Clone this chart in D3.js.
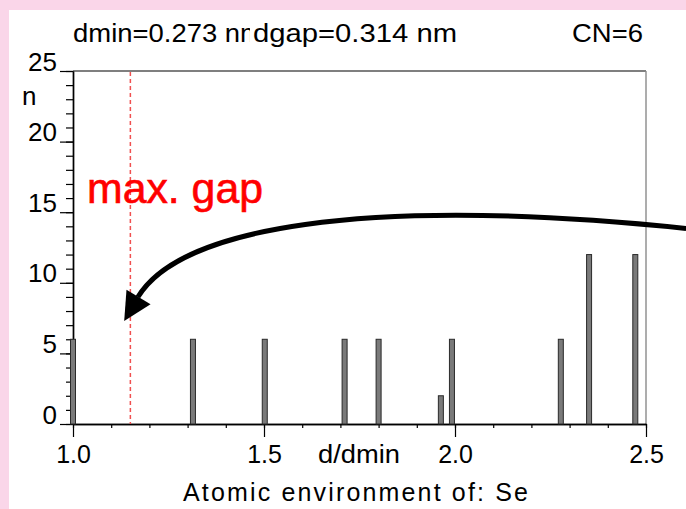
<!DOCTYPE html>
<html>
<head>
<meta charset="utf-8">
<script src="https://cdn.jsdelivr.net/npm/d3@7"></script>
<style>
  html, body { margin: 0; padding: 0; background: #fad6e9; }
  svg { display: block; }
  text { font-family: Arial, "Liberation Sans", sans-serif; }
</style>
</head>
<body>
<svg id="chart" width="686" height="509"></svg>
<script>
// Interatomic distance histogram around Se, distances normalised by dmin
const distances = [1.000, 1.314, 1.502, 1.711, 1.800, 1.963, 1.992, 2.277, 2.351, 2.472];
const counts    = [6, 6, 6, 6, 6, 2, 6, 6, 12, 12];

const dmin = 0.273;          // nm
const dgap = 0.314;          // nm
const coordinationNumber = 6;
const element = "Se";

const yMajorTicks = [0, 5, 10, 15, 20, 25];
const yMinorTicks = d3.range(0, 26, 1);
const xMajorTicks = [1.0, 1.5, 2.0, 2.5];
const xMinorTicks = d3.range(10, 26, 1).map(v => v / 10);

// Annotation arrow as a cubic Bezier (start, control 1, control 2, end) plus its tip,
// all in (d/dmin, n) units
const arrowCurve = [[2.605, 13.85], [1.751, 16.22], [1.2785, 13.85], [1.170, 8.99]];
const arrowTip = [1.134, 7.29];

const svg = d3.select("#chart");

// white sheet over the pink backdrop
svg.append("rect")
  .attr("x", 9).attr("y", 10)
  .attr("width", 686 - 9).attr("height", 509 - 10)
  .attr("fill", "#ffffff");

const plot = { left: 73, right: 646, top: 71, bottom: 424 };

const x = d3.scaleLinear().domain([1.0, 2.5]).range([plot.left, plot.right]);
const y = d3.scaleLinear().domain([0, 25]).range([plot.bottom, plot.top]);

// frame: top and right edges
svg.append("line")
  .attr("x1", plot.left).attr("x2", plot.right)
  .attr("y1", plot.top).attr("y2", plot.top)
  .attr("stroke", "#000").attr("stroke-width", 1.2);
svg.append("line")
  .attr("x1", plot.right).attr("x2", plot.right)
  .attr("y1", plot.top).attr("y2", plot.bottom)
  .attr("stroke", "#8a8a8a").attr("stroke-width", 1.4);

// y axis: minor ticks, then major ticks with labels sitting on them
const yMinor = svg.append("g")
  .attr("transform", `translate(${plot.left},0)`)
  .call(d3.axisLeft(y).tickValues(yMinorTicks).tickSize(7).tickSizeOuter(0).tickFormat(""));
const yMajor = svg.append("g")
  .attr("transform", `translate(${plot.left},0)`)
  .call(d3.axisLeft(y).tickValues(yMajorTicks).tickSize(13).tickSizeOuter(0).tickPadding(3));
yMajor.selectAll("text")
  .attr("dy", -1)
  .attr("x", -16)
  .attr("font-size", 26)
  .attr("fill", "#000");

// x axis
const xMinor = svg.append("g")
  .attr("transform", `translate(0,${plot.bottom})`)
  .call(d3.axisBottom(x).tickValues(xMinorTicks).tickSize(4).tickSizeOuter(0).tickFormat(""));
const xMajor = svg.append("g")
  .attr("transform", `translate(0,${plot.bottom})`)
  .call(d3.axisBottom(x).tickValues(xMajorTicks).tickSize(13).tickSizeOuter(0).tickFormat(d3.format(".1f")));
xMajor.selectAll("text")
  .attr("y", 39)
  .attr("dy", 0)
  .attr("font-size", 25)
  .attr("fill", "#000");

[yMinor, yMajor, xMinor, xMajor].forEach(g => {
  g.selectAll("line").attr("stroke", "#000").attr("stroke-width", 1.2);
  g.select(".domain").attr("stroke", "#000").attr("stroke-width", 1.4);
});

// dashed marker at the largest gap
const gapRatio = dgap / dmin;
svg.append("line")
  .attr("x1", x(gapRatio)).attr("x2", x(gapRatio))
  .attr("y1", plot.top + 1).attr("y2", plot.bottom)
  .attr("stroke", "#f05050").attr("stroke-width", 1.5)
  .attr("stroke-dasharray", "4,3");

// histogram bars
const barW = 5;
svg.append("g").selectAll("rect")
  .data(distances.map((d, i) => ({ d, n: counts[i] })))
  .join("rect")
  .attr("x", v => x(v.d) - barW / 2)
  .attr("y", v => y(v.n))
  .attr("width", barW)
  .attr("height", v => y(0) - y(v.n))
  .attr("fill", "#7a7a7a")
  .attr("stroke", "#2a2a2a")
  .attr("stroke-width", 1);

// header texts; the dgap label is printed over the tail of the dmin label
svg.append("text")
  .attr("x", 73).attr("y", 42)
  .attr("font-size", 25)
  .attr("textLength", 190).attr("lengthAdjust", "spacingAndGlyphs")
  .text(`dmin=${dmin.toFixed(3)} nm`);
const gapLabel = svg.append("g");
const gapBack = gapLabel.append("rect").attr("fill", "#fff");
const gapText = gapLabel.append("text")
  .attr("x", 253).attr("y", 42)
  .attr("font-size", 25)
  .attr("textLength", 204).attr("lengthAdjust", "spacingAndGlyphs")
  .text(`dgap=${dgap.toFixed(3)} nm`);
const gb = gapText.node().getBBox();
gapBack.attr("x", gb.x - 3).attr("y", gb.y + 4).attr("width", gb.width + 3).attr("height", gb.height - 6);

svg.append("text")
  .attr("x", 572).attr("y", 42)
  .attr("font-size", 25)
  .attr("textLength", 71).attr("lengthAdjust", "spacingAndGlyphs")
  .text(`CN=${coordinationNumber}`);

// axis titles
svg.append("text")
  .attr("x", 22).attr("y", 105)
  .attr("font-size", 26)
  .text("n");
svg.append("text")
  .attr("x", 318).attr("y", 463)
  .attr("font-size", 25)
  .attr("textLength", 82).attr("lengthAdjust", "spacingAndGlyphs")
  .text("d/dmin");
svg.append("text")
  .attr("x", 183).attr("y", 501)
  .attr("font-size", 25)
  .attr("textLength", 345).attr("lengthAdjust", "spacing")
  .text(`Atomic environment of: ${element}`);

// annotation
svg.append("text")
  .attr("x", 87).attr("y", 203)
  .attr("font-size", 42)
  .attr("fill", "#ff0000")
  .attr("stroke", "#ff0000").attr("stroke-width", 0.6)
  .attr("textLength", 176).attr("lengthAdjust", "spacingAndGlyphs")
  .text("max. gap");

const toPx = p => [x(p[0]), y(p[1])];
const [c0, c1, c2, c3] = arrowCurve.map(toPx);
const curve = d3.path();
curve.moveTo(c0[0], c0[1]);
curve.bezierCurveTo(c1[0], c1[1], c2[0], c2[1], c3[0], c3[1]);
svg.append("path")
  .attr("d", curve.toString())
  .attr("fill", "none")
  .attr("stroke", "#000")
  .attr("stroke-width", 5)
  .attr("stroke-linecap", "butt");

// arrowhead, aligned with the end tangent of the curve
const tip = toPx(arrowTip);
const dx = tip[0] - c2[0], dy = tip[1] - c2[1];
const len = Math.hypot(dx, dy);
const ux = dx / len, uy = dy / len;
const headLen = 28, headHalf = 14;
const bx = tip[0] - headLen * ux, by = tip[1] - headLen * uy;
svg.append("polygon")
  .attr("points", [
    tip,
    [bx - headHalf * uy, by + headHalf * ux],
    [bx + headHalf * uy, by - headHalf * ux]
  ].map(p => p.join(",")).join(" "))
  .attr("fill", "#000");
</script>
</body>
</html>
